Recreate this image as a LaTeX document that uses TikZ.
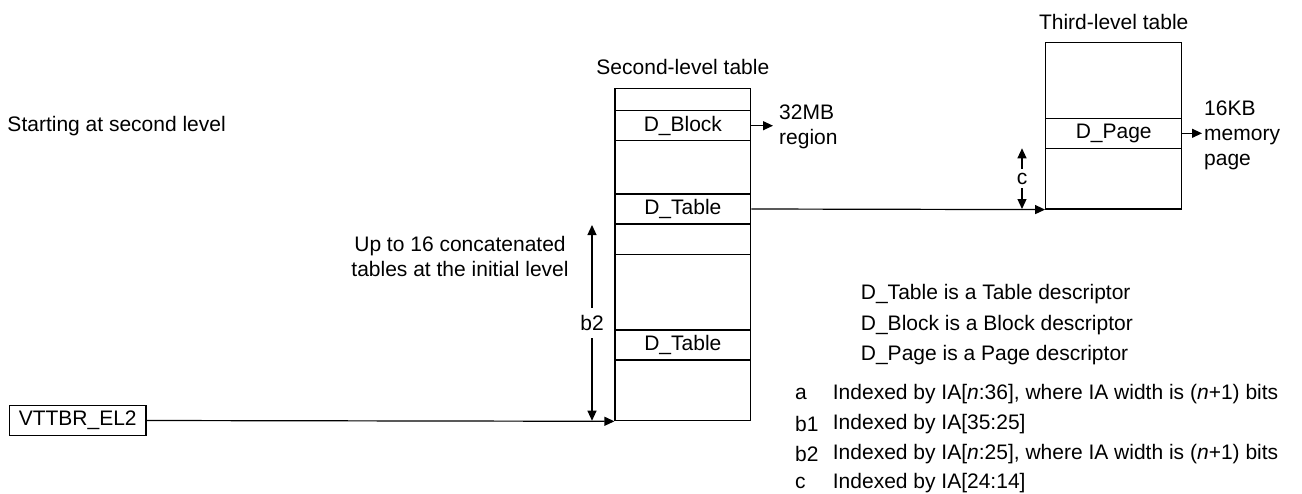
\documentclass[tikz,border=0pt]{standalone}
\usepackage{fontspec}
\setmainfont{Liberation Sans}
\usetikzlibrary{arrows.meta}
\tikzset{
  lbl/.style={font=\fontsize{21}{25}\selectfont,inner sep=0pt},
  tbl/.style={draw,line width=1.2pt,inner sep=0pt},
  row/.style={tbl,lbl,minimum width=135.7pt,minimum height=30pt},
  arr/.style={line width=1.2pt,-{Triangle[length=10pt,width=9pt]}},
  darr/.style={line width=1.2pt,{Triangle[length=10pt,width=9pt]}-{Triangle[length=10pt,width=9pt]}},
}

\begin{document}
\begin{tikzpicture}[x=1pt,y=-1pt]
\useasboundingbox (0,0) rectangle (1302,493);
% second-level table
\node[tbl,minimum width=135.7pt,minimum height=332.4pt] (slt) at (682.85,254.5) {};
\draw[line width=1.2pt] (615,254.5)--(750.7,254.5);
\node[row] (blk) at (682.85,125.7) {D\_Block};
\node[row] (tab1) at (682.85,209) {D\_Table};
\node[row] (tab2) at (682.85,345) {D\_Table};
\node[lbl] (slttitle) at (682.85,67) {Second-level table};
% third-level table
\node[tbl,minimum width=136pt,minimum height=166.3pt] (tlt) at (1113.7,125.85) {};
\node[row,minimum width=136pt] (pg) at (1113.7,133.3) {D\_Page};
\node[lbl] (tlttitle) at (1113.7,22) {Third-level table};
% outputs
\node[lbl,anchor=west,align=left] (reg) at (779,127) {32MB\\region};
\draw[arr] (blk.east) -- ([xshift=-6pt]reg.west|-blk.east);
\node[lbl,anchor=west,align=left] (mem) at (1204,135) {16KB\\memory\\page};
\draw[arr] (pg.east) -- ([xshift=-2pt]mem.west|-pg.east);
% base register and walk
\node[row,minimum width=136.7pt] (vttbr) at (77.7,420.5) {VTTBR\_EL2};
\draw[arr] (vttbr.east) -- (slt.south west);
\draw[arr] (tab1.east) -- (tlt.south west);
% index ranges
\coordinate (b2top) at (592,225);
\coordinate (b2bot) at (592,420.7);
\draw[darr] (b2top) -- node[lbl,fill=white,inner xsep=1pt,inner ysep=7pt]{b2} (b2bot);
\coordinate (ctop) at (1022,148.3);
\coordinate (cbot) at (1022,209);
\draw[darr] (ctop) -- node[lbl,fill=white,inner xsep=1pt,inner ysep=4pt]{c} (cbot);
% notes
\node[lbl,anchor=west] (start) at (7.3,126) {Starting at second level};
\node[lbl,align=center] (concat) at (460,256) {Up to 16 concatenated\\tables at the initial level};
\node[lbl,anchor=west] (k1) at (860.7,293.7) {D\_Table is a Table descriptor};
\node[lbl,anchor=west] (k2) at (860.7,325.3) {D\_Block is a Block descriptor};
\node[lbl,anchor=west] (k3) at (860.7,355.3) {D\_Page is a Page descriptor};
\node[lbl,anchor=west] (ka) at (795,393.7) {a};
\node[lbl,anchor=west] (kat) at (832.7,393.7) {Indexed by IA[\textit{n}:36], where IA width is (\textit{n}+1) bits};
\node[lbl,anchor=west] (kb1) at (795,423.7) {b1};
\node[lbl,anchor=west] (kb1t) at (832.7,423.7) {Indexed by IA[35:25]};
\node[lbl,anchor=west] (kb2) at (795,453.7) {b2};
\node[lbl,anchor=west] (kb2t) at (832.7,453.7) {Indexed by IA[\textit{n}:25], where IA width is (\textit{n}+1) bits};
\node[lbl,anchor=west] (kc) at (795,482.7) {c};
\node[lbl,anchor=west] (kct) at (832.7,482.7) {Indexed by IA[24:14]};
\end{tikzpicture}
\end{document}
